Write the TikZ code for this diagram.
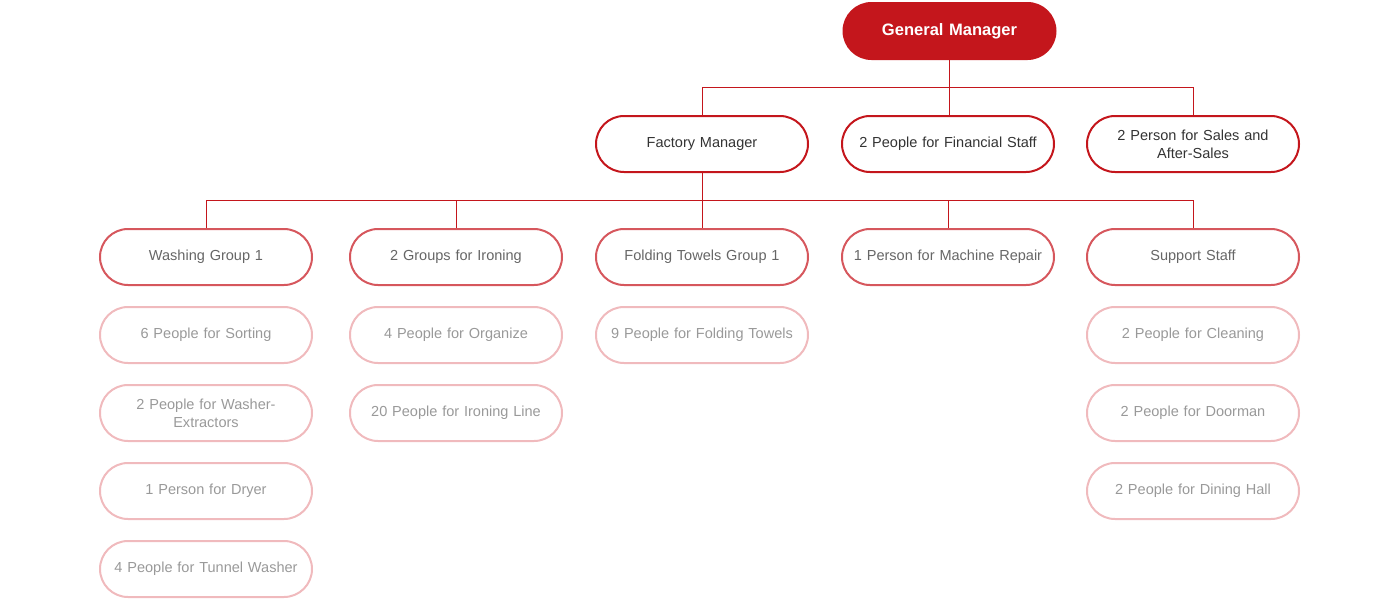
\documentclass[tikz,border=0pt]{standalone}
\usepackage{fontspec}
\setmainfont{Liberation Sans}
\definecolor{gmred}{HTML}{C4161C}
\definecolor{midred}{HTML}{D6575D}
\definecolor{lightred}{HTML}{F0BABD}
\definecolor{txtdark}{HTML}{333333}
\definecolor{txtmid}{HTML}{666666}
\definecolor{txtlight}{HTML}{999999}
\begin{document}
\begin{tikzpicture}[x=0.75pt,y=-0.75pt,
  box/.style={rounded rectangle, minimum width=212*0.75pt, minimum height=56*0.75pt, inner sep=0pt, align=center, text width=194*0.75pt, font=\fontsize{10.9}{13.5}\selectfont},
  gm/.style={box, fill=gmred, draw=gmred, line width=1.5pt, text=white, font=\fontsize{12.4}{14}\selectfont\bfseries},
  lvtwo/.style={box, draw=gmred, line width=1.5pt, text=txtdark},
  lvthree/.style={box, draw=midred, line width=1.5pt, text=txtmid},
  lvfour/.style={box, draw=lightred, line width=1.5pt, text=txtlight},
  conn/.style={draw=gmred, line width=0.75pt}]
\usetikzlibrary{shapes.misc}
\useasboundingbox (0,0) rectangle (1400,600);
\node[gm] (gm) at (949.5,31) {General Manager};
\node[lvtwo] (fm) at (702,144) {Factory Manager};
\node[lvtwo] (fin) at (948,144) {2 People for Financial Staff};
\node[lvtwo] (sal) at (1193,144) {2 Person for Sales and\\After-Sales};
\node[lvthree] (wash) at (206,257) {Washing Group 1};
\node[lvthree] (iron) at (456,257) {2 Groups for Ironing};
\node[lvthree] (fold) at (702,257) {Folding Towels Group 1};
\node[lvthree] (rep) at (948,257) {1 Person for Machine Repair};
\node[lvthree] (sup) at (1193,257) {Support Staff};
\node[lvfour] (w1) at (206,335) {6 People for Sorting};
\node[lvfour] (w2) at (206,413) {2 People for Washer-\\Extractors};
\node[lvfour] (w3) at (206,491) {1 Person for Dryer};
\node[lvfour] (w4) at (206,569) {4 People for Tunnel Washer};
\node[lvfour] (i1) at (456,335) {4 People for Organize};
\node[lvfour] (i2) at (456,413) {20 People for Ironing Line};
\node[lvfour] (f1) at (702,335) {9 People for Folding Towels};
\node[lvfour] (s1) at (1193,335) {2 People for Cleaning};
\node[lvfour] (s2) at (1193,413) {2 People for Doorman};
\node[lvfour] (s3) at (1193,491) {2 People for Dining Hall};
\coordinate (b1) at (gm.south |- 0,87);
\coordinate (b2) at (702,200);
\draw[conn] (gm.south) -- (b1);
\draw[conn] (b1) -| (fm.north);
\draw[conn] (b1) -- (b1 |- fin.north);
\draw[conn] (b1) -| (sal.north);
\draw[conn] (fm.south) -- (b2);
\draw[conn] (b2) -| (wash.north);
\draw[conn] (b2) -| (iron.north);
\draw[conn] (b2) -- (fold.north);
\draw[conn] (b2) -| (rep.north);
\draw[conn] (b2) -| (sup.north);
\end{tikzpicture}
\end{document}
